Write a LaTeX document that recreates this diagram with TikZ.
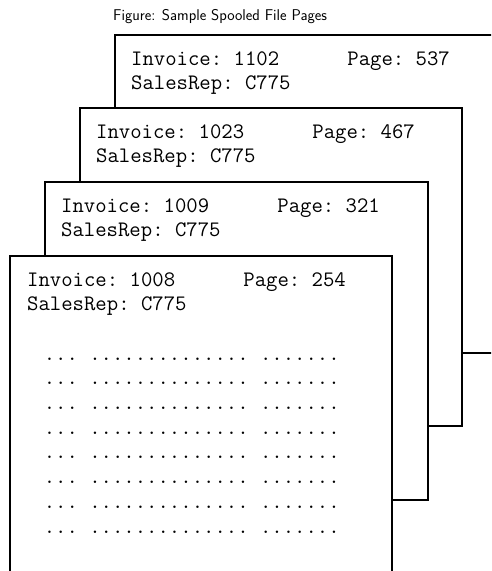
\documentclass[tikz,border=0pt]{standalone}
\usetikzlibrary{positioning}
\begin{document}
\begin{tikzpicture}[x=1pt,y=-1pt,
    page/.style={draw,line width=1.2pt,fill=white},
    sheet/.style={anchor=base west,inner sep=0pt,align=left,
      font=\fontsize{22.1}{24.7}\selectfont\ttfamily\frenchspacing}]
  \useasboundingbox (0,0) rectangle (491,571);
  \clip (0,0) rectangle (491,571);
  \node[anchor=base west,inner sep=0pt,font=\sffamily\fontsize{15.6}{17}\selectfont] (title) at (113,20) {Figure: Sample Spooled File Pages};
  % back page (base anchor sits on the last line)
  \draw[page] (115,35) rectangle (500,353);
  \node[sheet] (inv1102) at (131,89.7) {Invoice: 1102~~~~~~Page: 537\\SalesRep: C775};
  \draw[page] (80,108) rectangle (462,426);
  \node[sheet] (inv1023) at (96,162.7) {Invoice: 1023~~~~~~Page: 467\\SalesRep: C775};
  \draw[page] (45,182) rectangle (428,500);
  \node[sheet] (inv1009) at (61,236.7) {Invoice: 1009~~~~~~Page: 321\\SalesRep: C775};
  % front page
  \draw[page] (10,256) rectangle (392,575);
  \node[sheet] (inv1008) at (27,310.7) {Invoice: 1008~~~~~~Page: 254\\SalesRep: C775};
  \node[sheet] (lines) at (43.6,533) {... .............. .......\\... .............. .......\\
    ... .............. .......\\... .............. .......\\
    ... .............. .......\\... .............. .......\\
    ... .............. .......\\... .............. .......};
\end{tikzpicture}
\end{document}
